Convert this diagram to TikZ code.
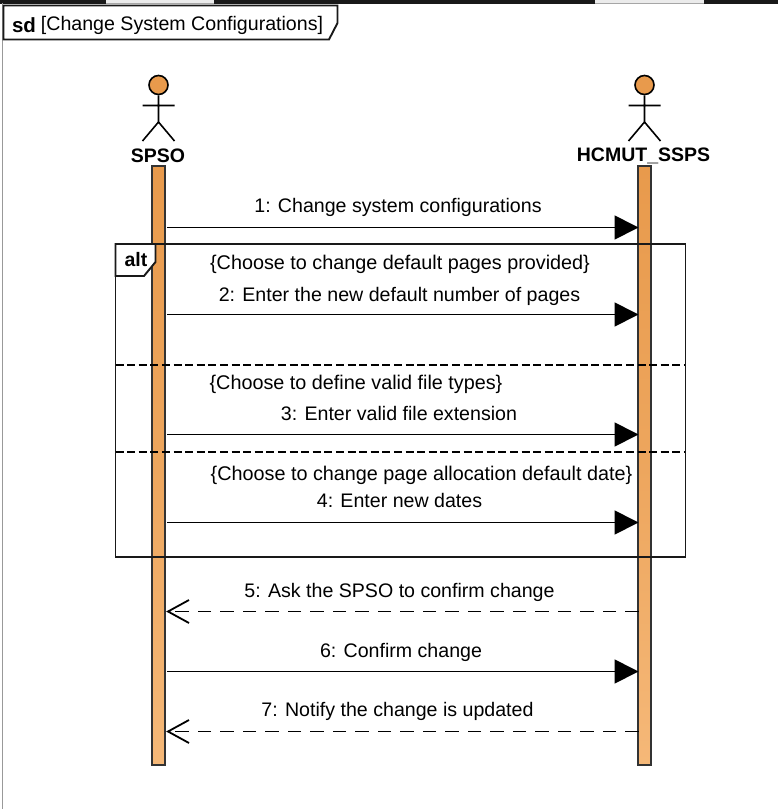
\documentclass[tikz,border=0pt]{standalone}
\usepackage{fontspec}
\setmainfont{Liberation Sans}
\usetikzlibrary{arrows.meta}
\definecolor{orangeTop}{HTML}{E89A4C}
\definecolor{orangeBot}{HTML}{F5B878}
\tikzset{
  lifebar/.style={draw=black!80,line width=1.6pt,minimum width=13.5pt,minimum height=599pt,inner sep=0pt,top color=orangeTop,bottom color=orangeBot,middle color=orangeTop!60!orangeBot},
  txt/.style={inner sep=0pt,font=\fontsize{19.6}{22}\selectfont},
  guard/.style={inner sep=0pt,font=\fontsize{19.8}{22}\selectfont},
  actorname/.style={inner sep=0pt,font=\fontsize{19.5}{22}\selectfont\bfseries},
  limb/.style={draw=black,line width=1.6pt},
  framebox/.style={draw=black!90,line width=1.9pt},
  sync/.style={draw=black,line width=1.8pt,-{Triangle[length=24pt,width=24pt]}},
  reply/.style={draw=black,line width=1.8pt,dash pattern=on 13.5pt off 9pt},
  openhead/.style={draw=black,line width=1.8pt,miter limit=10},
  divider/.style={draw=black,line width=2pt,dash pattern=on 8pt off 3.6pt},
}
\begin{document}
\begin{tikzpicture}[x=1pt,y=-1pt]
\useasboundingbox (0,0) rectangle (778,809);
% window edges
\fill[black!90] (0,0) rectangle (778,3.5);
\fill[black!8] (106,0) rectangle (214,2.5);
\fill[black!8] (595,0) rectangle (704,2.5);
\fill[black!35] (106,2.5) rectangle (214,3.5);
\fill[black!35] (595,2.5) rectangle (704,3.5);
\draw[black!40,line width=1pt] (2.5,3) -- (2.5,809);
% sd tab
\draw[framebox,fill=white] (3.5,5.5) -- (337.5,5.5) -- (337.5,23) -- (329,39.5) -- (3.5,39.5) -- cycle;
\node[inner sep=0pt,font=\fontsize{20.5}{22}\selectfont\bfseries] (sdlabel) at (24,25.5) {sd};
\node[txt] (sdtitle) at (182,25.5) {[Change System Configurations]};
% lifelines
\node[lifebar] (barA) at (158.5,465.5) {};
\node[lifebar] (barB) at (644.5,465.5) {};
% actors
\node[draw=black,line width=1.6pt,circle,fill=orangeTop,minimum size=19pt,inner sep=0pt] (headA) at (158.5,85) {};
\coordinate (hipA) at (158.5,122);
\coordinate (armLA) at (142.5,105.5);
\coordinate (armRA) at (174.5,105.5);
\coordinate (footLA) at (142.5,141);
\coordinate (footRA) at (174.5,141);
\draw[limb] (headA) -- (hipA) (armLA) -- (armRA) (footLA) -- (hipA) -- (footRA);
\node[actorname] (nameA) at (158,155.5) {SPSO};
\node[draw=black,line width=1.6pt,circle,fill=orangeTop,minimum size=19pt,inner sep=0pt] (headB) at (644.5,85) {};
\coordinate (hipB) at (644.5,122);
\coordinate (armLB) at (628.5,105.5);
\coordinate (armRB) at (660.5,105.5);
\coordinate (footLB) at (628.5,141);
\coordinate (footRB) at (660.5,141);
\draw[limb] (headB) -- (hipB) (armLB) -- (armRB) (footLB) -- (hipB) -- (footRB);
\node[actorname] (nameB) at (643.5,155.5) {HCMUT\_SSPS};
% alt frame
\node[framebox,minimum width=570pt,minimum height=313pt,inner sep=0pt] (alt) at (400.5,400.5) {};
\draw[framebox,fill=white] (115.5,244) -- (155.5,244) -- (155.5,262) -- (144,276) -- (115.5,276) -- cycle;
\node[inner sep=0pt,font=\fontsize{19.5}{22}\selectfont\bfseries] (altlabel) at (136,259.5) {alt};
\coordinate (d1L) at (115.5,364.5);
\coordinate (d1R) at (685,364.5);
\coordinate (d2L) at (115.5,451.5);
\coordinate (d2R) at (685,451.5);
\draw[divider] (d1L) -- (d1R);
\draw[divider] (d2L) -- (d2R);
% message anchors
\foreach \n/\y in {1/227.5,2/314.5,3/434.5,4/522.5,5/611.5,6/671.5,7/731.5}{
  \coordinate (a\n) at (167,\y);
  \coordinate (b\n) at (638.5,\y);
}
\coordinate (t5) at (168,611.5);
\coordinate (t7) at (168,731.5);
\draw[sync] (a1) -- (b1);
\draw[sync] (a2) -- (b2);
\draw[sync] (a3) -- (b3);
\draw[sync] (a4) -- (b4);
\draw[reply] (b5) -- (t5);
\draw[openhead] ([shift={(21,-11.5)}]t5) -- (t5) -- ([shift={(21,11.5)}]t5);
\draw[sync] (a6) -- (b6);
\draw[reply] (b7) -- (t7);
\draw[openhead] ([shift={(21,-11.5)}]t7) -- (t7) -- ([shift={(21,11.5)}]t7);
% labels
\node[txt] (m1) at (398,207) {1: Change system configurations};
\node[guard] (g1) at (400,264.2) {\{Choose to change default pages provided\}};
\node[txt] (m2) at (399.5,296.2) {2: Enter the new default number of pages};
\node[guard] (g2) at (356,384.2) {\{Choose to define valid file types\}};
\node[txt] (m3) at (399,413.3) {3: Enter valid file extension};
\node[guard] (g3) at (421.5,475.2) {\{Choose to change page allocation default date\}};
\node[txt] (m4) at (399.5,500.3) {4: Enter new dates};
\node[txt] (m5) at (399.5,592.2) {5: Ask the SPSO to confirm change};
\node[txt] (m6) at (401,652.2) {6: Confirm change};
\node[txt] (m7) at (397.5,711.2) {7: Notify the change is updated};
\end{tikzpicture}
\end{document}
